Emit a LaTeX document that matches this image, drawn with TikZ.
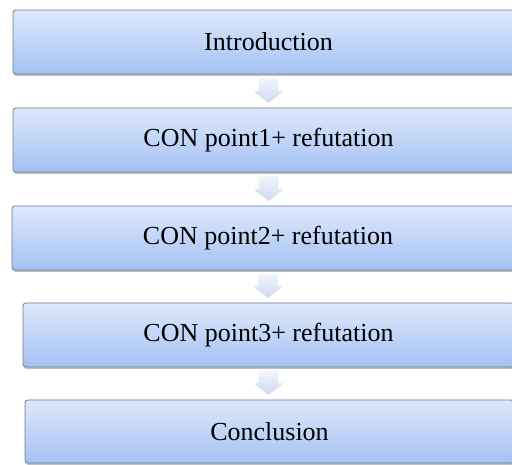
\documentclass[tikz,border=0pt]{standalone}
\usepackage{fontspec}
\setmainfont{Liberation Serif}
\usetikzlibrary{calc,shadows}
\definecolor{boxtop}{HTML}{DEE8FC}
\definecolor{boxbot}{HTML}{A4C2F4}
\definecolor{boxline}{HTML}{6E7B8E}
\definecolor{arrtop}{HTML}{F0F4FC}
\definecolor{arrbot}{HTML}{D0DCF4}
\tikzset{
  stepbox/.style={draw=boxline, line width=0.8pt, rounded corners=3pt,
    top color=boxtop, bottom color=boxbot, minimum height=64pt,
    inner sep=0pt, font=\fontsize{26}{30}\selectfont,
    drop shadow={shadow xshift=0.5pt, shadow yshift=-2pt, opacity=0.35, fill=black!70}},
  blockarrow/.style={top color=arrtop, bottom color=arrbot, draw=none,
    drop shadow={shadow xshift=0pt, shadow yshift=-1.5pt, opacity=0.2, fill=black!60}}
}
\begin{document}
\begin{tikzpicture}[x=1pt,y=-1pt]
\useasboundingbox[fill=white] (0,0) rectangle (512,465);
\node[stepbox, minimum width=511pt] (b1) at (268.5,42) {Introduction};
\node[stepbox, minimum width=511pt] (b2) at (268.5,140) {CON point1+ refutation};
\node[stepbox, minimum width=512pt] (b3) at (268,238) {CON point2+ refutation};
\node[stepbox, minimum width=491pt] (b4) at (268.5,335) {CON point3+ refutation};
\node[stepbox, minimum width=489pt, minimum height=63pt] (b5) at (269.5,431.5) {Conclusion};
\foreach \a/\b in {b1/b2,b2/b3,b3/b4,b4/b5}{
  \path[blockarrow] let \p1=(\a.south), \p2=(\b.north) in
    (\x1-9.5pt,\y1-4pt) -- (\x1+9.5pt,\y1-4pt) -- (\x1+9.5pt,\y2+17pt)
    -- (\x1+14pt,\y2+17pt) -- (\x1,\y2+6pt) -- (\x1-14pt,\y2+17pt)
    -- (\x1-9.5pt,\y2+17pt) -- cycle;
}
\end{tikzpicture}
\end{document}
